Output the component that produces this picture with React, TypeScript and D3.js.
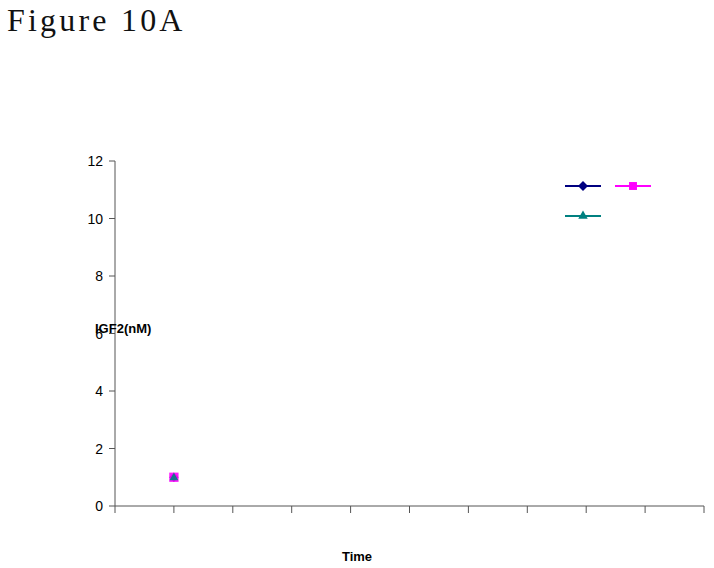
import * as d3 from "d3";

// time categories (0..10) and measured IGF2 values
const timeTicks = [0, 1, 2, 3, 4, 5, 6, 7, 8, 9, 10];
const yTicks = [0, 2, 4, 6, 8, 10, 12];

const seriesNames = ["s1", "s2", "s3"];
const seriesColors = ["#000080", "#FF00FF", "#008080"];
const seriesShapes = ["diamond", "square", "triangle"];
const seriesValues = [
  [{ t: 1, v: 1.0 }],
  [{ t: 1, v: 1.0 }],
  [{ t: 1, v: 0.98 }],
];

const W = 714;
const H = 568;
const margin = { left: 115, right: 8, top: 161, bottom: 62 };

function marker(shape: string, size: number) {
  const sym =
    shape === "diamond"
      ? d3.symbolDiamond2
      : shape === "square"
      ? d3.symbolSquare2
      : d3.symbolTriangle2;
  return d3.symbol().type(sym).size(size)() as string;
}

export default function App() {
  const x = d3
    .scaleLinear()
    .domain([0, 10])
    .range([margin.left, W - margin.right - 2]);
  const y = d3
    .scaleLinear()
    .domain([0, 12])
    .range([H - margin.bottom, margin.top]);

  const axisColor = "#555";
  const font = "Liberation Sans, Arial, sans-serif";

  // legend (entries without text) placed inside the plot area
  const legend = [
    { i: 0, lx: 565, ly: 186 },
    { i: 1, lx: 615, ly: 186 },
    { i: 2, lx: 565, ly: 216 },
  ];

  return (
    <svg
      width={W}
      height={H}
      style={{ position: "absolute", left: 0, top: 0 }}
    >
      <rect width={W} height={H} fill="#fff" />
      <text
        x={7}
        y={31}
        fontFamily="Liberation Serif, Times New Roman, serif"
        fontSize={32}
        letterSpacing={3.2}
        fill="#111"
      >
        Figure 10A
      </text>

      {/* y axis */}
      <line
        x1={x(0)}
        x2={x(0)}
        y1={y(12)}
        y2={y(0)}
        stroke={axisColor}
        strokeWidth={1}
      />
      {yTicks.map((t) => (
        <g key={t}>
          <line
            x1={x(0) - 6}
            x2={x(0)}
            y1={y(t)}
            y2={y(t)}
            stroke={axisColor}
          />
          <text
            x={x(0) - 12}
            y={y(t)}
            dy="0.36em"
            textAnchor="end"
            fontFamily={font}
            fontSize={14}
            fill="#000"
          >
            {t}
          </text>
        </g>
      ))}

      {/* x axis */}
      <line
        x1={x(0)}
        x2={x(10)}
        y1={y(0)}
        y2={y(0)}
        stroke={axisColor}
      />
      {timeTicks.map((t) => (
        <line
          key={t}
          x1={x(t)}
          x2={x(t)}
          y1={y(0)}
          y2={y(0) + 7}
          stroke={axisColor}
        />
      ))}

      <text
        x={95}
        y={y(6) - 1}
        fontFamily={font}
        fontSize={13}
        fontWeight="bold"
        fill="#000"
      >
        IGF2(nM)
      </text>
      <text
        x={357}
        y={561}
        textAnchor="middle"
        fontFamily={font}
        fontSize={13}
        fontWeight="bold"
        fill="#000"
      >
        Time
      </text>

      {/* data points */}
      {[0, 1, 2].map((si) =>
        seriesValues[si].map((d, j) => (
          <path
            key={seriesNames[si] + j}
            d={marker(seriesShapes[si], si === 1 ? 110 : 55)}
            transform={`translate(${x(d.t)},${y(d.v)})`}
            fill={seriesColors[si]}
            opacity={0.9}
          />
        ))
      )}

      {/* legend */}
      {legend.map((l) => (
        <g key={l.i} transform={`translate(${l.lx},${l.ly})`}>
          <line x1={0} x2={36} y1={0} y2={0} stroke={seriesColors[l.i]} strokeWidth={2} />
          <path
            d={marker(seriesShapes[l.i], l.i === 1 ? 80 : 64)}
            transform="translate(18,0)"
            fill={seriesColors[l.i]}
          />
        </g>
      ))}
    </svg>
  );
}
